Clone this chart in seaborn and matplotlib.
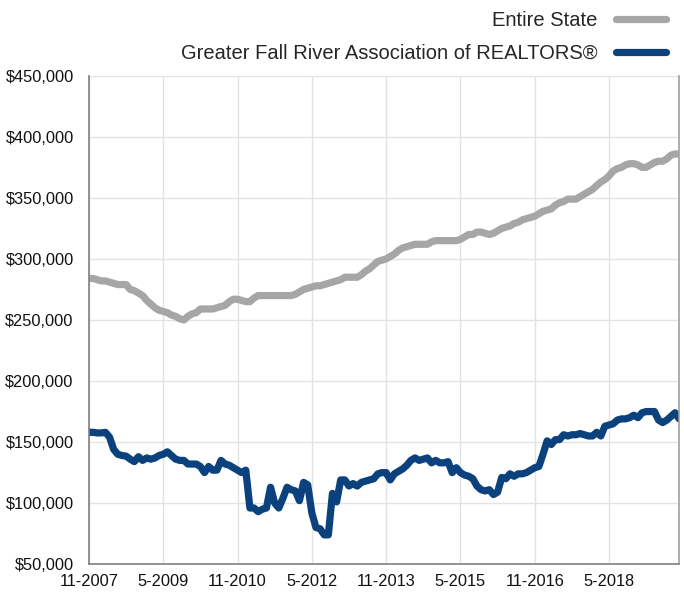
import numpy as np
import pandas as pd
import seaborn as sns
import matplotlib.pyplot as plt
from matplotlib.ticker import FuncFormatter

sns.set_theme(style="whitegrid")
plt.rcParams['font.family'] = ['Liberation Sans', 'DejaVu Sans']

# Median price by month, 11-2007 .. 10-2019 (thousands of dollars)
state_vals = [
    284, 284, 283, 282, 282, 281, 280, 279, 279, 279, 275, 274, 272, 270, 266, 263,
    260, 258, 257, 256, 254, 253, 251, 250, 253, 255, 256, 259, 259, 259, 259, 260,
    261, 262, 265, 267, 267, 266, 265, 265, 268, 270, 270, 270, 270, 270, 270, 270,
    270, 270, 271, 273, 275, 276, 277, 278, 278, 279, 280, 281, 282, 283, 285, 285,
    285, 285, 287, 290, 292, 295, 298, 299, 300, 302, 304, 307, 309, 310, 311, 312,
    312, 312, 312, 314, 315, 315, 315, 315, 315, 315, 316, 318, 320, 320, 322, 322,
    321, 320, 321, 323, 325, 326, 327, 329, 330, 332, 333, 334, 335, 337, 339, 340,
    341, 344, 346, 347, 349, 349, 349, 351, 353, 355, 357, 360, 363, 365, 368, 372,
    374, 375, 377, 378, 378, 377, 375, 375, 377, 379, 380, 380, 382, 385, 386, 386,
]
fall_river_vals = [
    158, 158, 157.5, 157.5, 158, 154, 144, 140, 139, 138.5, 136, 134, 138, 135, 137, 136,
    137, 139, 140, 142, 139, 136, 135, 135, 132, 132, 132, 130, 125, 130, 127, 127,
    135, 132, 131, 129, 127, 125, 127, 96, 96, 93, 95, 96, 113, 100, 96, 104,
    113, 111, 110, 102, 117, 115, 92, 80, 79, 74, 74, 108, 101, 119, 119, 114,
    116, 114, 117, 118, 119, 120, 124, 125, 125, 119, 124, 126, 128, 131, 135, 137,
    135, 136, 137, 133, 135, 133, 133, 134, 125, 129, 125, 123, 122, 120, 114, 111,
    110, 111, 107, 109, 121, 120, 124, 122, 124, 124, 125, 127, 129, 130, 140, 151,
    148, 152, 152, 156, 155, 156, 156, 157, 156, 155, 155, 158, 155, 163, 164, 165,
    168, 169, 169, 170, 172, 170, 174, 175, 175, 175, 168, 166, 168, 171, 174, 169,
]
tick_pos = [0, 18, 36, 54, 72, 90, 108, 126]
tick_labels = ["11-2007", "5-2009", "11-2010", "5-2012", "11-2013", "5-2015", "11-2016", "5-2018"]
series_names = ["Entire State", "Greater Fall River Association of REALTORS®"]

months = np.arange(len(state_vals))
df = pd.DataFrame({
    "month": np.concatenate([months, months]),
    "price": np.array(state_vals + fall_river_vals) * 1000,
    "series": [series_names[0]] * len(state_vals) + [series_names[1]] * len(fall_river_vals),
})

fig = plt.figure(figsize=(6.84, 5.92), dpi=100)
ax = fig.add_axes([0.130, 0.047, 0.863, 0.825])

sns.lineplot(data=df, x="month", y="price", hue="series", hue_order=series_names,
             palette=["#a6a6a6", "#0b427e"], linewidth=5.2, ax=ax, legend=True)

ax.set_xlim(0, 143)
ax.set_ylim(50000, 450000)
ax.set_yticks(np.arange(50000, 450001, 50000))
ax.yaxis.set_major_formatter(FuncFormatter(lambda v, p: f"${v:,.0f}"))
ax.set_xticks(tick_pos)
ax.set_xticklabels(tick_labels)
ax.set_xlabel("")
ax.set_ylabel("")
ax.tick_params(axis="both", labelsize=11.8, colors="#111111", length=4, width=0.8,
               direction="out")
ax.tick_params(axis="y", pad=7)
ax.tick_params(axis="x", pad=3)
ax.tick_params(axis="both", color="#888888")
ax.grid(True, color="#e3e3e3", linewidth=1)

for side in ["left", "bottom"]:
    ax.spines[side].set_color("#808080")
    ax.spines[side].set_linewidth(1.2)
ax.spines["right"].set_color("#a0a0a0")
ax.spines["right"].set_linewidth(1.2)
ax.spines["top"].set_visible(False)

handles, labels = ax.get_legend_handles_labels()
ax.legend(handles, labels, loc="upper right", bbox_to_anchor=(1.0, 1.012),
          bbox_transform=fig.transFigure, frameon=False, markerfirst=False,
          fontsize=14.5, handlelength=2.5, labelspacing=0.68, handletextpad=0.9)

fig.savefig("out.png", dpi=100)
